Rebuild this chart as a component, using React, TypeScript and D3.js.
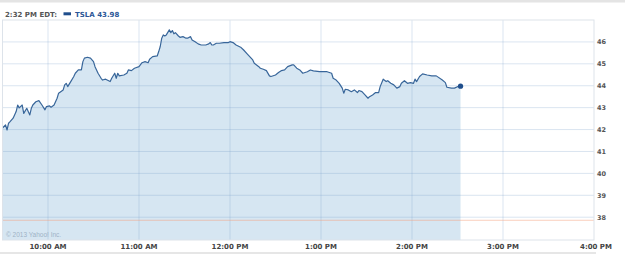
import React from "react";
import * as d3 from "d3";

const minutesAfterOpen = [0,2,3,4,5,7,9,10,11,13,14,16,18,19,20,22,24,26,28,29,31,32,34,36,37,40,41,42,43,45,47,48,50,52,53,54,56,58,60,61,63,65,66,68,70,71,72,74,75,76,77,80,82,83,85,87,90,92,94,96,97,99,102,103,104,105,106,107,108,110,111,112,113,114,116,117,119,121,122,124,125,127,129,131,134,136,137,138,139,141,143,146,149,150,152,154,157,159,161,163,165,166,169,170,172,174,176,177,180,182,184,186,188,191,192,194,196,198,201,203,205,209,214,217,218,220,222,224,225,226,228,230,232,234,235,237,239,241,242,244,246,248,249,251,253,254,256,258,260,262,263,265,267,269,271,272,273,275,277,280,283,286,290,292,293,296,298,301,302];
const prices = [42.07,42.21,41.98,42.29,42.36,42.52,42.82,43.12,42.99,43.12,42.74,42.97,42.67,42.97,43.12,43.27,43.32,43.12,42.90,43.05,43.08,43.02,43.12,43.43,43.66,43.81,44.04,44.11,43.96,44.19,44.42,44.57,44.72,44.72,45.10,45.26,45.30,45.26,45.10,44.87,44.57,44.34,44.26,44.30,44.23,44.19,44.34,44.57,44.34,44.57,44.45,44.49,44.57,44.72,44.69,44.80,44.87,45.05,45.10,45.05,45.21,45.33,45.36,45.56,45.79,46.17,46.32,46.27,46.32,46.55,46.42,46.52,46.37,46.42,46.27,46.21,46.24,46.17,46.17,46.24,46.09,46.01,45.91,45.86,45.86,45.91,45.97,45.86,45.86,45.94,45.94,45.97,45.97,46.01,45.97,45.86,45.76,45.63,45.48,45.33,45.18,45.03,44.87,44.80,44.75,44.69,44.45,44.42,44.49,44.60,44.69,44.72,44.87,44.95,44.95,44.80,44.72,44.57,44.64,44.72,44.68,44.64,44.64,44.57,44.34,44.26,44.11,43.89,43.66,43.84,43.81,43.73,43.81,43.69,43.78,43.73,43.58,43.43,43.50,43.58,43.69,43.69,43.96,44.30,44.19,44.23,44.11,44.04,43.89,43.96,44.11,44.23,44.11,44.14,44.11,44.30,44.19,44.42,44.54,44.49,44.45,44.45,44.26,44.14,43.93,43.89,43.89,43.99,43.98];
const yTicks = [38,39,40,41,42,43,44,45,46];
const hourTicks = [10,11,12,13,14,15,16];
const hourLabels = ["10:00 AM","11:00 AM","12:00 PM","1:00 PM","2:00 PM","3:00 PM","4:00 PM"];
const prevClose = 37.86;
const symbol = "TSLA";
const lastPrice = "43.98";
const timeLabel = "2:32 PM EDT:";

const W = 625, H = 257;
const L = 2.5, R = 594, T = 20, B = 240;

const day = (h: number, m: number) => new Date(2013, 4, 20, h, m);

export default function App() {
  const x = d3.scaleTime().domain([day(9, 30), day(16, 0)]).range([L, R]);
  const y = d3.scaleLinear().domain([36.96, 47]).range([B, T]);
  const pts = minutesAfterOpen.map((m, i) => ({ t: day(9, 30 + m), v: prices[i] }));
  const line = d3.line<any>().x(d => x(d.t)).y(d => y(d.v));
  const area = d3.area<any>().x(d => x(d.t)).y0(B).y1(d => y(d.v));
  const last = pts[pts.length - 1];
  const grid = "rgba(120,160,200,0.27)";
  const font = "'DejaVu Sans', Verdana, sans-serif";
  return (
    <svg width={W} height={H} style={{ position: "absolute", left: 0, top: 0 }}>
      <rect x={0} y={0} width={W} height={H} fill="#fff" />
      <rect x={0} y={0} width={W} height={2.5} fill="#e4e4e4" />
      <text x={5} y={17} fontFamily={font} fontWeight="bold" fontSize={7} fill="#555">{timeLabel}</text>
      <rect x={63.5} y={12.3} width={7.5} height={3} fill="#1f4e8c" />
      <text x={75} y={17} fontFamily={font} fontWeight="bold" fontSize={7} fill="#2b5797">{symbol} {lastPrice}</text>
      <path d={area(pts) || ""} fill="#d6e6f2" />
      {yTicks.map(v => (
        <line key={v} x1={L} x2={R} y1={y(v)} y2={y(v)} stroke={grid} strokeWidth={1} />
      ))}
      {hourTicks.slice(0, 6).map(h => (
        <line key={h} x1={x(day(h, 0))} x2={x(day(h, 0))} y1={T} y2={B} stroke={grid} strokeWidth={1} />
      ))}
      <line x1={L} x2={R} y1={y(prevClose)} y2={y(prevClose)} stroke="#f4a07a" strokeWidth={1} strokeDasharray="1,1" />
      <path d={line(pts) || ""} fill="none" stroke="#38669a" strokeWidth={1.2} strokeLinejoin="round" />
      <circle cx={x(last.t)} cy={y(last.v)} r={2.6} fill="#1f4e8c" />
      <rect x={L} y={T} width={R - L} height={B - T} fill="none" stroke="#dde3ea" strokeWidth={1} />
      {yTicks.map(v => (
        <text key={v} x={597} y={y(v) + 2.5} fontFamily={font} fontWeight="bold" fontSize={6.5} fill="#555">{v}</text>
      ))}
      {hourTicks.map((h, i) => (
        <text key={h} x={x(day(h, 0)) + (h === 16 ? 2 : 0)} y={249} textAnchor="middle" fontFamily={font} fontWeight="bold" fontSize={7} fill="#444">{hourLabels[i]}</text>
      ))}
      <text x={6} y={237} fontFamily="'Liberation Sans', Arial, sans-serif" fontSize={6.5} fill="#9fb3c6">© 2013 Yahoo! Inc.</text>
      <rect x={0} y={252} width={596} height={2} fill="#e6e6e6" />
    </svg>
  );
}
